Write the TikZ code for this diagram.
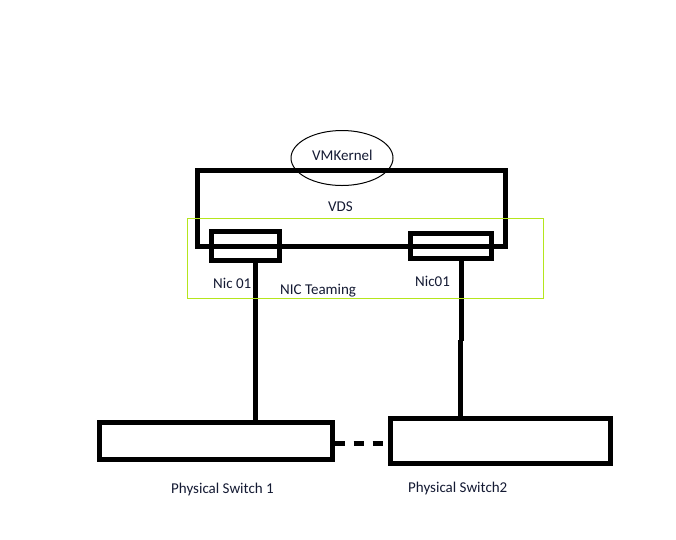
\documentclass[tikz,border=0pt]{standalone}
\usepackage{fontspec}
\setmainfont{Carlito}
\usetikzlibrary{shapes.geometric,calc}
\definecolor{txt}{HTML}{141A33}
\definecolor{limeline}{HTML}{B5E61D}
\tikzset{
  boxthick/.style={draw=black, line width=5pt, rectangle, inner sep=0pt},
  greenbox/.style={draw=limeline, line width=1pt, rectangle, inner sep=0pt},
  oval/.style={draw=black, line width=1pt, ellipse, inner sep=0pt},
  wire/.style={draw=black, line width=5pt},
  dashwire/.style={draw=black, line width=5pt, dash pattern=on 10pt off 9pt},
  lbl/.style={text=txt, inner sep=0pt, anchor=base west, font=\fontsize{15pt}{18pt}\selectfont}
}
\begin{document}
\begin{tikzpicture}[x=1pt,y=-1pt]
\useasboundingbox (0,0) rectangle (676,539);
\fill[white] (0,0) rectangle (676,539);
% VDS box
\node[boxthick, minimum width=308pt, minimum height=76pt] (vds) at (351.5,208.5) {};
% NIC boxes
\node[boxthick, minimum width=67.4pt, minimum height=28.7pt] (nicL) at (245.5,245.85) {};
\node[boxthick, minimum width=81.6pt, minimum height=24.7pt] (nicR) at (451,245.85) {};
% VMKernel ellipse
\node[oval, minimum width=102pt, minimum height=55pt] (vmk) at (342,158) {};
% physical switches
\node[boxthick, minimum width=232.5pt, minimum height=37pt] (sw1) at (215.75,441) {};
\node[boxthick, minimum width=220pt, minimum height=45pt] (sw2) at (500.5,441) {};
% connectors
\coordinate (lx) at (255.5,0);
\coordinate (rb1) at (461.5,341);
\coordinate (rb2) at (460.2,340);
\coordinate (dy) at (0,443);
\draw[wire] (nicL.south -| lx) -- (sw1.north -| lx);
\draw[wire] (nicR.south -| rb1) -- (rb1);
\draw[wire] (rb2) -- (sw2.north -| rb2);
\draw[dashwire] (sw1.east |- dy) -- (sw2.west |- dy);
% NIC teaming box
\node[greenbox, minimum width=356pt, minimum height=80pt] (team) at (365.5,258.5) {};
% labels
\node[lbl] (tvmk) at (312,160) {VMKernel};
\node[lbl] (tvds) at (328,211) {VDS};
\node[lbl] (tnicl) at (213,288) {Nic 01};
\node[lbl] (tteam) at (280,294.5) {NIC Teaming};
\node[lbl] (tnicr) at (415,286) {Nic01};
\node[lbl] (tsw1) at (171,493) {Physical Switch 1};
\node[lbl] (tsw2) at (408,492) {Physical Switch2};
\end{tikzpicture}
\end{document}
